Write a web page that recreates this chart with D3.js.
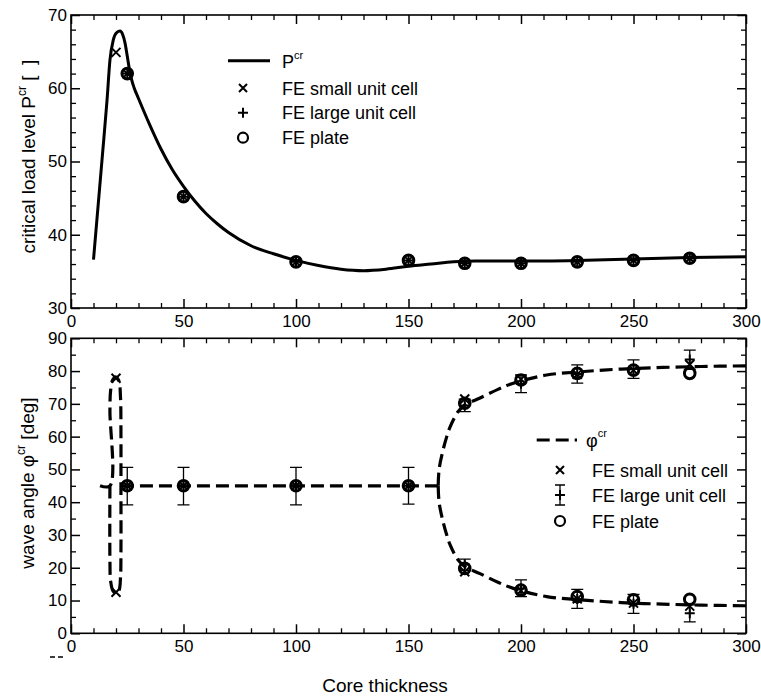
<!DOCTYPE html>
<html>
<head>
<meta charset="utf-8">
<script src="https://cdn.jsdelivr.net/npm/d3@7"></script>
<style>
  body { margin: 0; background: #fff; }
  svg text { font-family: "Liberation Sans", Arial, Helvetica, sans-serif; fill: #000; }
</style>
</head>
<body>
<svg id="chart" width="761" height="700"></svg>
<script>
// Data
var xTicks = [0, 50, 100, 150, 200, 250, 300];
var topYTicks = [30, 40, 50, 60, 70];
var botYTicks = [0, 10, 20, 30, 40, 50, 60, 70, 80, 90];

// analytical P^cr curve [thickness, P]
var pCurve = [[10,36.6],[12,43.8],[14,51],[16,58.3],[17.3,63.8],[18.8,66.6],[20.3,67.6],[21.8,67.8],[23,67.3],[24,66.2],[25,64.4],[26,62.5],[27,61.1],[28,60.1],[30,58.6],[35,55.0],[40,51.7],[45,48.9],[50,46.6],[55,44.6],[60,42.9],[65,41.5],[70,40.3],[80,38.5],[90,37.4],[100,36.5],[110,35.8],[120,35.3],[130,35.1],[140,35.3],[150,35.7],[160,36.0],[170,36.3],[180,36.4],[200,36.4],[225,36.5],[250,36.7],[275,36.9],[300,37.0]];

// FE results, top panel
var smallTop = [[20,64.9],[25,62.0],[50,45.2],[100,36.3],[150,36.5],[175,36.1],[200,36.1],[225,36.3],[250,36.5],[275,36.8]];
var largeTop = [[25,62.0],[50,45.2],[100,36.3],[150,36.5],[175,36.1],[200,36.1],[225,36.3],[250,36.5],[275,36.8]];
var plateTop = [[25,62.0],[50,45.2],[100,36.3],[150,36.5],[175,36.1],[200,36.1],[225,36.3],[250,36.5],[275,36.8]];

// analytical phi^cr curve, in pieces [thickness, angle]
var phiLoop = [[12.9,45],[17.3,45],[17.3,68],[17.6,74],[18.6,77.4],[20,78.2],[21.3,77],[22,72],[22.2,60],[22.2,45],[22.2,25],[22,17],[21.3,13],[20,12.2],[18.6,13],[17.6,16],[17.3,22],[17.3,45]];
var phiFlat = [[22.2,45],[163.2,45]];
var phiUpper = [[163.2,45],[163.6,50],[165.2,55.5],[167,60],[168.5,63],[172,67.6],[175,69.6],[181.8,71.8],[190,74.5],[196.6,76.3],[211.4,78.8],[225,79.7],[236.6,80.3],[250,80.8],[263,81.1],[280,81.4],[300,81.6]];
var phiLower = [[163.2,45],[163.6,40],[165.2,34.5],[167,30],[168.5,27],[172,22.4],[175,20.4],[181.8,18.2],[190,15.5],[196.6,13.7],[211.4,11.2],[225,10.3],[236.6,9.7],[250,9.2],[263,8.9],[280,8.6],[300,8.4]];

// FE results, bottom panel
var smallBot = [[20,77.8],[20,12.5],[25,45],[50,45],[100,45],[150,45],[175,71.5],[200,77.5],[225,79],[250,80.3],[275,82],[175,18.8],[200,13],[225,10.5],[250,9.2],[275,8.3]];
// [thickness, angle, low, high]
var largeBot = [[25,45,39.2,50.6],[50,45,39.2,50.6],[100,45,39.2,50.6],[150,45,39.4,50.6],[175,69.5,67.6,71.4],[200,76.1,73.4,78.8],[225,79.1,76.3,81.9],[250,80.6,77.8,83.4],[275,83.5,80.5,86.4],[175,21,19.2,22.6],[200,13.7,11.2,16.3],[225,10.5,7.6,13.4],[250,9,6.1,11.9],[275,6.1,3.5,8.7]];
var plateBot = [[25,45],[50,45],[100,45],[150,45],[175,70.2],[200,77.3],[225,79.3],[250,80.3],[275,79.3],[175,19.8],[200,13.2],[225,11.2],[250,10.2],[275,10.4]];

var svg = d3.select("#chart");
var plotLeft = 71, plotRight = 746;
var topBox = { top: 15, bottom: 308 };
var botBox = { top: 338.3, bottom: 633.3 };

// Scales
var xScale = d3.scaleLinear().domain([0, 300]).range([plotLeft, plotRight]);
var yTop = d3.scaleLinear().domain([30, 70]).range([topBox.bottom, topBox.top]);
var yBot = d3.scaleLinear().domain([0, 90]).range([botBox.bottom, botBox.top]);

var xMinor = d3.range(0, 301, 10).filter(function(d) { return d % 50 != 0; });

// draws frame + inward ticks on all four sides
var drawFrame = function(box, yScale, yMajor, yMinor) {
  var g = svg.append("g");
  var h = box.bottom - box.top;

  var parts = [
    { ax: d3.axisBottom, t: "translate(0," + box.bottom + ")", s: xScale, major: xTicks, minor: xMinor, labels: true },
    { ax: d3.axisTop, t: "translate(0," + box.top + ")", s: xScale, major: xTicks, minor: xMinor, labels: false },
    { ax: d3.axisLeft, t: "translate(" + plotLeft + ",0)", s: yScale, major: yMajor, minor: yMinor, labels: true },
    { ax: d3.axisRight, t: "translate(" + plotRight + ",0)", s: yScale, major: yMajor, minor: yMinor, labels: false }
  ];
  parts.forEach(function(p, i) {
    var vertical = i >= 2;
    var major = g.append("g").attr("transform", p.t)
      .call(p.ax(p.s).tickValues(p.major).tickSizeInner(-9).tickSizeOuter(0)
        .tickPadding(vertical ? 4 : 7)
        .tickFormat(p.labels ? d3.format("d") : ""));
    major.select(".domain").remove();
    major.selectAll("line").attr("stroke-width", 1.5);
    major.selectAll("text").style("font-size", "17px");

    var minor = g.append("g").attr("transform", p.t)
      .call(p.ax(p.s).tickValues(p.minor).tickSizeInner(-5).tickSizeOuter(0).tickFormat(""));
    minor.select(".domain").remove();
    minor.selectAll("line").attr("stroke-width", 1.3);
  });

  g.append("rect")
    .attr("x", plotLeft).attr("y", box.top)
    .attr("width", plotRight - plotLeft).attr("height", h)
    .attr("fill", "none").attr("stroke", "#000").attr("stroke-width", 1.6);
};

drawFrame(topBox, yTop, topYTicks, d3.range(30, 71, 2).filter(function(d) { return d % 10 != 0; }));
drawFrame(botBox, yBot, botYTicks, d3.range(5, 90, 10));

// marker helpers
var drawCross = function(g, cx, cy, s) {
  g.append("path")
    .attr("d", "M" + (cx - s) + "," + (cy - s) + "L" + (cx + s) + "," + (cy + s) + "M" + (cx - s) + "," + (cy + s) + "L" + (cx + s) + "," + (cy - s))
    .attr("stroke", "#000").attr("stroke-width", 2).attr("fill", "none");
};
var drawPlus = function(g, cx, cy, s) {
  g.append("path")
    .attr("d", "M" + (cx - s) + "," + cy + "L" + (cx + s) + "," + cy + "M" + cx + "," + (cy - s) + "L" + cx + "," + (cy + s))
    .attr("stroke", "#000").attr("stroke-width", 2).attr("fill", "none");
};
var drawCircle = function(g, cx, cy, r, sw) {
  g.append("circle")
    .attr("cx", cx).attr("cy", cy).attr("r", r)
    .attr("fill", "none").attr("stroke", "#000").attr("stroke-width", sw || 2.2);
};
var drawErr = function(g, cx, y1, y2, w) {
  g.append("path")
    .attr("d", "M" + cx + "," + y1 + "L" + cx + "," + y2 +
               "M" + (cx - w) + "," + y1 + "L" + (cx + w) + "," + y1 +
               "M" + (cx - w) + "," + y2 + "L" + (cx + w) + "," + y2)
    .attr("stroke", "#000").attr("stroke-width", 1.3).attr("fill", "none");
};

// ---- Top panel
var topG = svg.append("g");
var pLine = d3.line()
  .x(function(d) { return xScale(d[0]); })
  .y(function(d) { return yTop(d[1]); })
  .curve(d3.curveMonotoneX);
topG.append("path")
  .datum(pCurve)
  .attr("d", pLine)
  .attr("fill", "none").attr("stroke", "#000").attr("stroke-width", 3);

plateTop.forEach(function(d) { drawCircle(topG, xScale(d[0]), yTop(d[1]), 5.3, 3); });
largeTop.forEach(function(d) { drawPlus(topG, xScale(d[0]), yTop(d[1]), 5); });
smallTop.forEach(function(d) { drawCross(topG, xScale(d[0]), yTop(d[1]), 4.5); });

// top legend
var legTop = svg.append("g");
legTop.append("line")
  .attr("x1", 228).attr("x2", 270).attr("y1", 60.7).attr("y2", 60.7)
  .attr("stroke", "#000").attr("stroke-width", 3);
var pLab = legTop.append("text").attr("x", 282).attr("y", 68).style("font-size", "18px");
pLab.append("tspan").text("P");
pLab.append("tspan").attr("dy", -9).style("font-size", "11px").text("cr");
drawCross(legTop, 243, 88, 4);
drawPlus(legTop, 243, 112.7, 5);
drawCircle(legTop, 243, 137.7, 5);
var topLegLabels = ["FE small unit cell", "FE large unit cell", "FE plate"];
legTop.selectAll(".lt").data(topLegLabels).enter().append("text")
  .attr("x", 282)
  .attr("y", function(d, i) { return [88, 112.7, 137.7][i] + 6.5; })
  .style("font-size", "18px")
  .text(function(d) { return d; });

// ---- Bottom panel
var botG = svg.append("g");
var phiLine = d3.line()
  .x(function(d) { return xScale(d[0]); })
  .y(function(d) { return yBot(d[1]); })
  .curve(d3.curveCatmullRom);
[phiLoop, phiFlat, phiUpper, phiLower].forEach(function(seg) {
  botG.append("path")
    .datum(seg)
    .attr("d", phiLine)
    .attr("fill", "none").attr("stroke", "#000")
    .attr("stroke-width", 3.2).attr("stroke-dasharray", "13,6");
});

largeBot.forEach(function(d) {
  drawErr(botG, xScale(d[0]), yBot(d[2]), yBot(d[3]), 6);
  drawPlus(botG, xScale(d[0]), yBot(d[1]), 5);
});
plateBot.forEach(function(d) { drawCircle(botG, xScale(d[0]), yBot(d[1]), 5.3, 3); });
smallBot.forEach(function(d) { drawCross(botG, xScale(d[0]), yBot(d[1]), 4.5); });

// bottom legend
var legBot = svg.append("g");
legBot.append("line")
  .attr("x1", 536.7).attr("x2", 577).attr("y1", 440).attr("y2", 440)
  .attr("stroke", "#000").attr("stroke-width", 3.2).attr("stroke-dasharray", "13,6");
var phiLab = legBot.append("text").attr("x", 586).attr("y", 447).style("font-size", "18px");
phiLab.append("tspan").text("\u03c6");
phiLab.append("tspan").attr("dy", -10).style("font-size", "11px").text("cr");
var botRows = [470, 495, 521];
drawCross(legBot, 560, botRows[0], 4);
drawErr(legBot, 560, botRows[1] - 10, botRows[1] + 10, 5);
drawPlus(legBot, 560, botRows[1], 5);
drawCircle(legBot, 560, botRows[2], 5);
legBot.selectAll(".lb").data(topLegLabels).enter().append("text")
  .attr("x", 592)
  .attr("y", function(d, i) { return botRows[i] + 6.5; })
  .style("font-size", "18px")
  .text(function(d) { return d; });

// axis titles
var yLabTop = svg.append("text")
  .attr("transform", "translate(35," + 156.5 + ") rotate(-90)")
  .attr("text-anchor", "middle")
  .style("font-size", "19px")
  .style("white-space", "pre");
yLabTop.append("tspan").text("critical load level P");
yLabTop.append("tspan").attr("dy", -9).style("font-size", "12px").text("cr");
yLabTop.append("tspan").attr("dy", 9).text(" [  ]");

var yLabBot = svg.append("text")
  .attr("transform", "translate(34," + 483 + ") rotate(-90)")
  .attr("text-anchor", "middle")
  .style("font-size", "19px")
  .style("white-space", "pre");
yLabBot.append("tspan").text("wave angle \u03c6");
yLabBot.append("tspan").attr("dy", -9).style("font-size", "12px").text("cr");
yLabBot.append("tspan").attr("dy", 9).text(" [deg]");

svg.append("text")
  .attr("x", 385).attr("y", 692)
  .attr("text-anchor", "middle")
  .style("font-size", "19px")
  .text("Core thickness");

// stray dashes left under the lower axis in the original
svg.append("line")
  .attr("x1", 50).attr("x2", 63).attr("y1", 657).attr("y2", 657)
  .attr("stroke", "#000").attr("stroke-width", 1.4).attr("stroke-dasharray", "5,3");
</script>
</body>
</html>
